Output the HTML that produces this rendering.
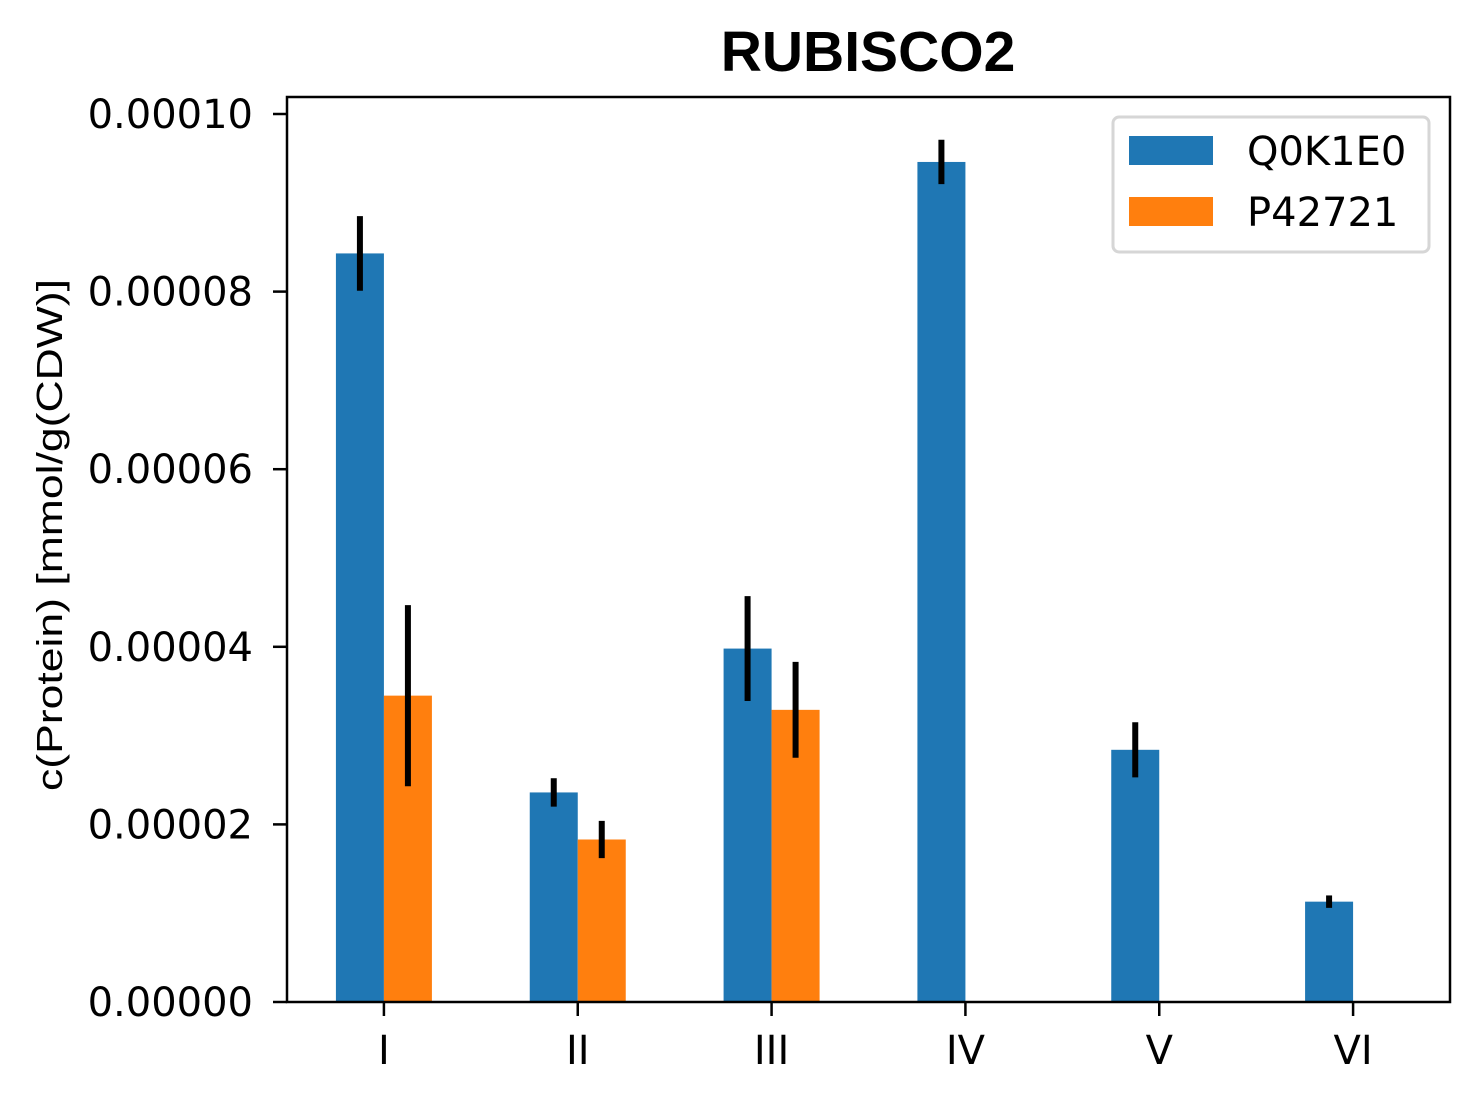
<!DOCTYPE html>
<html><head><meta charset="utf-8"><style>
html,body{margin:0;padding:0;background:#fff}
svg{display:block}
</style></head><body>
<svg id="chart" width="1479" height="1102" xmlns="http://www.w3.org/2000/svg">
<rect width="1479" height="1102" fill="#fff"/>
<text x="868" y="71" text-anchor="middle" font-family="Liberation Sans, sans-serif" font-weight="bold" font-size="57">RUBISCO2</text>
<text transform="translate(62,535) rotate(-90)" text-anchor="middle" font-family="Liberation Sans, sans-serif" font-size="36" textLength="512" lengthAdjust="spacingAndGlyphs">c(Protein) [mmol/g(CDW)]</text>
<g id="bars"></g>
<g id="errs"></g>
<g id="axes"></g>
<g>
<rect x="1113" y="117" width="316" height="135" rx="6" fill="#fff" stroke="#d6d6d6" stroke-width="3"/>
<rect x="1129" y="136" width="84" height="29" fill="#1f77b4"/>
<text x="1247" y="165" font-family="DejaVu Sans, sans-serif" font-size="40">Q0K1E0</text>
<rect x="1129" y="197" width="84" height="29" fill="#ff7f0e"/>
<text x="1247" y="226" font-family="DejaVu Sans, sans-serif" font-size="40">P42721</text>
</g>
</svg>
<script>
const categories = ["I","II","III","IV","V","VI"];
const seriesNames = ["Q0K1E0","P42721"];
const q0k1e0Values = [8.43e-5, 2.36e-5, 3.98e-5, 9.46e-5, 2.84e-5, 1.13e-5];
const q0k1e0Errors = [4.2e-6, 1.6e-6, 5.9e-6, 2.5e-6, 3.1e-6, 0.7e-6];
const p42721Values = [3.45e-5, 1.83e-5, 3.29e-5, 0, 0, 0];
const p42721Errors = [1.02e-5, 2.1e-6, 5.4e-6, 0, 0, 0];
const yTickValues = [0, 2e-5, 4e-5, 6e-5, 8e-5, 1e-4];
const yTickLabels = ["0.00000","0.00002","0.00004","0.00006","0.00008","0.00010"];

const NS = "http://www.w3.org/2000/svg";
const L = 287, R = 1450, T = 97, B = 1002;
const x = i => L + (i + 0.5) * (R - L) / 6;
const y = v => B - v * (B - 114) / 1e-4;
const bw = 48;
function mk(tag, attrs, parent){ const e = document.createElementNS(NS, tag); for (const k in attrs) e.setAttribute(k, attrs[k]); parent.appendChild(e); return e; }
const bars = document.getElementById('bars'), errs = document.getElementById('errs'), axes = document.getElementById('axes');
const series = [[q0k1e0Values, q0k1e0Errors, "#1f77b4", -1], [p42721Values, p42721Errors, "#ff7f0e", 0]];
series.forEach((s, si) => {
  s[0].forEach((v, i) => {
    const x0 = x(i) + s[3] * bw;
    const r = mk('rect', {x: x0, y: y(v), width: bw, height: B - y(v), fill: s[2]}, bars);
    
    
    if (s[1][i] > 0) {
      const l = mk('line', {x1: x0 + bw / 2, x2: x0 + bw / 2, y1: y(v + s[1][i]), y2: y(v - s[1][i]), stroke: '#000', 'stroke-width': 6}, errs);
      
      
    }
  });
});
const frame = mk('rect', {x: L, y: T, width: R - L, height: B - T, fill: 'none', stroke: '#000', 'stroke-width': 2.5}, axes);


yTickValues.forEach((v, i) => {
  const tk = mk('line', {x1: L - 14, x2: L, y1: y(v), y2: y(v), stroke: '#000', 'stroke-width': 2.5}, axes);
  
  
  const t = mk('text', {x: L - 34, y: y(v) + 14, 'text-anchor': 'end', 'font-family': 'DejaVu Sans, sans-serif', 'font-size': 40}, axes);
  t.textContent = yTickLabels[i];
  
  
});
categories.forEach((c, i) => {
  const tk = mk('line', {x1: x(i), x2: x(i), y1: B, y2: B + 14, stroke: '#000', 'stroke-width': 2.5}, axes);
  
  
  const t = mk('text', {x: x(i), y: B + 62, 'text-anchor': 'middle', 'font-family': 'DejaVu Sans, sans-serif', 'font-size': 40}, axes);
  t.textContent = c;
  
  
});
</script>
</body></html>
